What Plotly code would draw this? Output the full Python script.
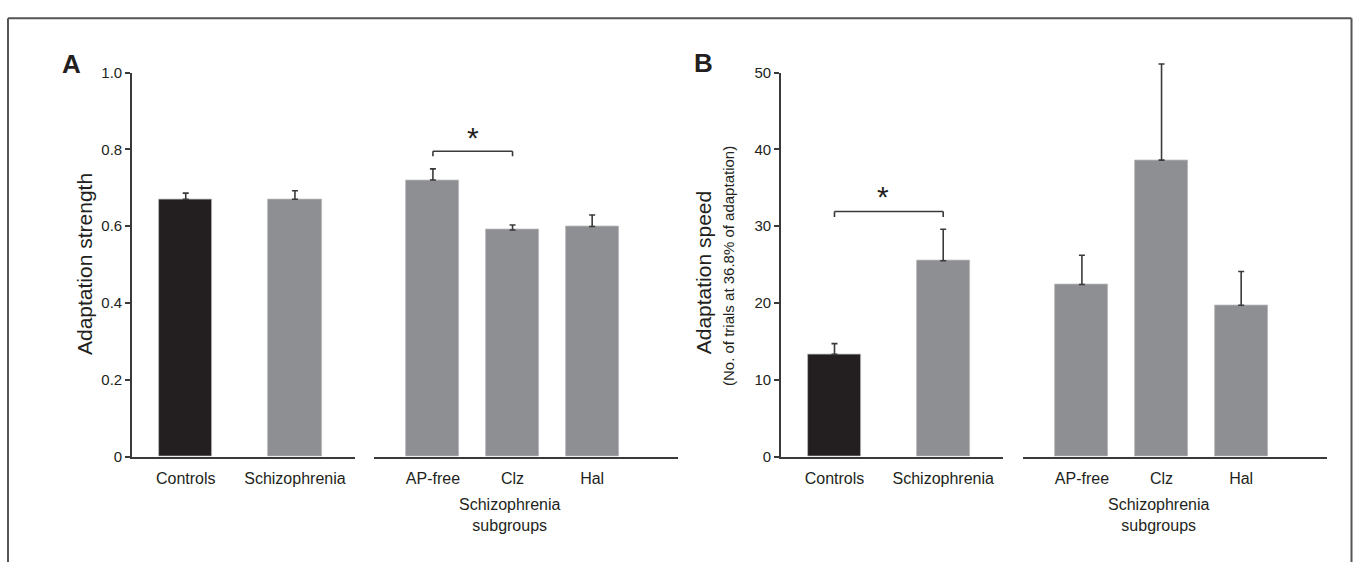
import plotly.graph_objects as go

W, H = 1355, 562

# ---- data ----
main_groups = ["Controls", "Schizophrenia"]
sub_groups = ["AP-free", "Clz", "Hal"]

strength_main = [0.670, 0.670]
strength_main_err = [0.016, 0.022]
strength_sub = [0.720, 0.590, 0.599]
strength_sub_err = [0.029, 0.013, 0.030]

speed_main = [13.3, 25.5]
speed_main_err = [1.4, 4.1]
speed_sub = [22.4, 38.6, 19.7]
speed_sub_err = [3.8, 12.5, 4.4]

strength_ticks = [0, 0.2, 0.4, 0.6, 0.8, 1.0]
strength_ticktext = ["0", "0.2", "0.4", "0.6", "0.8", "1.0"]
speed_ticks = [0, 10, 20, 30, 40, 50]

BLACK = "#231f20"
GRAY = "#8e8f93"
AXC = "#3a3a3a"
FONT = "Liberation Sans, Arial, Helvetica, sans-serif"

def px(x):
    return x / W

def py(y):
    return 1 - y / H

Y0, Y1 = 461.5, 65.5
y_dom = [py(Y0), py(Y1)]
# hidden axes get extra headroom (same scale) so tall error bars are not clipped
EXT = 0.06
y_dom_ext = [py(Y0), py(Y1 - EXT * (Y0 - Y1))]

fig = go.Figure()

def add_bars(cats, vals, errs, colors, xa, ya, w):
    fig.add_trace(go.Bar(
        x=cats, y=vals, xaxis=xa, yaxis=ya,
        marker=dict(color=colors, line=dict(color="#b8b8ba", width=0.8)),
        width=[w] * len(cats),
        error_y=dict(type="data", array=errs, symmetric=False, arrayminus=[0] * len(cats),
                     color=AXC, thickness=1.6, width=3),
        showlegend=False, hoverinfo="skip"))

add_bars(main_groups, strength_main, strength_main_err, [BLACK, GRAY], "x", "y", 0.487)
add_bars(sub_groups, strength_sub, strength_sub_err, [GRAY] * 3, "x2", "y2", 0.667)
add_bars(main_groups, speed_main, speed_main_err, [BLACK, GRAY], "x3", "y3", 0.487)
add_bars(sub_groups, speed_sub, speed_sub_err, [GRAY] * 3, "x4", "y4", 0.667)

xcommon = dict(type="category", showline=True, linecolor=AXC, linewidth=1.6,
               ticks="", showgrid=False, zeroline=False, fixedrange=True,
               tickfont=dict(family=FONT, size=16, color=BLACK), ticklabelstandoff=6)
yhidden = dict(domain=y_dom_ext, visible=False, showgrid=False, zeroline=False, fixedrange=True)
yshown = dict(domain=y_dom, showline=True, linecolor=AXC, linewidth=1.6, ticks="outside",
              ticklen=5, tickwidth=1.6, tickcolor=AXC, showgrid=False, zeroline=False,
              fixedrange=True, tickfont=dict(family=FONT, size=15, color=BLACK))

left_range = [-0.492, 1.55]
right_range = [-0.74, 3.078]

fig.update_layout(
    width=W, height=H, margin=dict(l=0, r=0, t=0, b=0), autosize=False,
    paper_bgcolor="white", plot_bgcolor="rgba(0,0,0,0)",
    bargap=0,
    xaxis=dict(xcommon, domain=[px(132), px(355)], range=left_range, anchor="y"),
    xaxis2=dict(xcommon, domain=[px(374), px(678)], range=right_range, anchor="y2"),
    xaxis3=dict(xcommon, domain=[px(781), px(1003)], range=left_range, anchor="y3"),
    xaxis4=dict(xcommon, domain=[px(1023), px(1327)], range=right_range, anchor="y4"),
    yaxis=dict(yshown, range=[0, 1], tickvals=strength_ticks, ticktext=strength_ticktext, anchor="x"),
    yaxis2=dict(yhidden, range=[0, 1 * (1 + EXT)], anchor="x2"),
    yaxis3=dict(yshown, range=[0, 50], tickvals=speed_ticks, anchor="x3"),
    yaxis4=dict(yhidden, range=[0, 50 * (1 + EXT)], anchor="x4"),
)

# significance brackets
def bracket(xa, ya, x0, x1, ytop, ybot):
    for (a, b, c, d) in [(x0, ybot, x0, ytop), (x0, ytop, x1, ytop), (x1, ytop, x1, ybot)]:
        fig.add_shape(type="line", xref=xa, yref=ya, x0=a, y0=b, x1=c, y1=d,
                      line=dict(color=AXC, width=1.6))

bracket("x2", "y2", 0, 1, 0.795, 0.782)
bracket("x3", "y3", 0, 1, 31.9, 31.2)

ann = []
ann.append(dict(xref="x2", yref="y2", x=0.5, y=0.832, text="*", showarrow=False,
                font=dict(family=FONT, size=30, color=BLACK), yanchor="middle"))
ann.append(dict(xref="x3", yref="y3", x=0.45, y=33.8, text="*", showarrow=False,
                font=dict(family=FONT, size=30, color=BLACK), yanchor="middle"))

def pann(x, y, text, size, angle=0):
    ann.append(dict(xref="paper", yref="paper", x=px(x), y=py(y), text=text,
                    showarrow=False, textangle=angle, xanchor="center", yanchor="middle",
                    font=dict(family=FONT, size=size, color=BLACK)))

pann(71.5, 56.5, "<b>A</b>", 26)
pann(703.5, 56, "<b>B</b>", 26)
pann(84, 263, "Adaptation strength", 21, angle=-90)
pann(703.5, 272, "Adaptation speed", 21, angle=-90)
pann(729, 265, "(No. of trials at 36.8% of adaptation)", 15, angle=-90)
pann(510, 521.5, "Schizophrenia<br>subgroups", 16)
pann(1159, 521.5, "Schizophrenia<br>subgroups", 16)
fig.update_layout(annotations=ann)

# outer frame (top, left, right)
for (a, b, c, d) in [(8, 9.5, 1351.5, 9.5), (8, 9.5, 8, 580), (1351.5, 9.5, 1351.5, 580)]:
    fig.add_shape(type="line", xref="paper", yref="paper", x0=px(a), y0=py(b), x1=px(c), y1=py(d),
                  line=dict(color="#555555", width=2))

post = """
document.documentElement.style.margin='0';
document.documentElement.style.padding='0';
document.documentElement.style.overflow='hidden';
document.body.style.margin='0';
document.body.style.padding='0';
document.body.style.overflow='hidden';
var gd=document.getElementById('{plot_id}');
gd.style.position='fixed';gd.style.top='0px';gd.style.left='0px';
"""

fig.write_html("out.html", post_script=post, config={"displayModeBar": False})
